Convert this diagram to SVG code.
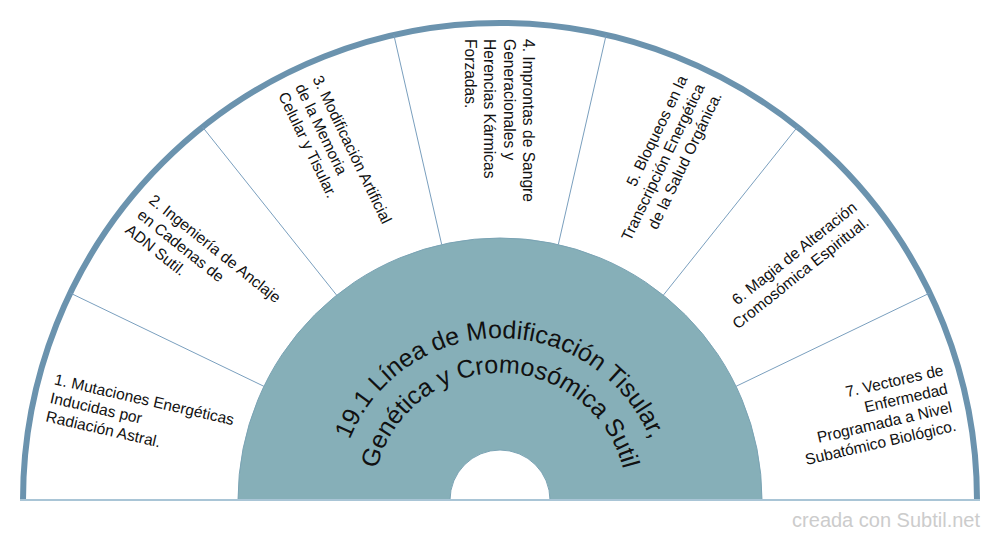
<svg xmlns="http://www.w3.org/2000/svg" width="1000" height="540" viewBox="0 0 1000 540">
<style>
.lbl{font-family:"Liberation Sans",Arial,sans-serif;font-size:15.6px;fill:#111}
.ttl{font-family:"Liberation Sans",Arial,sans-serif;font-size:25px;fill:#111}
.div{stroke:#7a9fbe;stroke-width:1;fill:none}
</style>
<defs>
<path id="arc1" d="M 338 500 A 162 162 0 0 1 662 500"/>
<path id="arc2" d="M 373 500 A 127 127 0 0 1 627 500"/>
</defs>
<rect width="1000" height="540" fill="#ffffff"/>
<g id="ring">
<path d="M 23 500 A 477 477 0 0 1 977 500" fill="#ffffff" stroke="#6b93ae" stroke-width="6"/>
</g>
<g id="connectors">
<line class="div" x1="263.95" y1="386.32" x2="70.24" y2="293.04"/>
<line class="div" x1="336.65" y1="295.16" x2="202.60" y2="127.07"/>
<line class="div" x1="441.70" y1="244.57" x2="393.86" y2="34.96"/>
<line class="div" x1="558.30" y1="244.57" x2="606.14" y2="34.96"/>
<line class="div" x1="663.35" y1="295.16" x2="797.40" y2="127.07"/>
<line class="div" x1="736.05" y1="386.32" x2="929.76" y2="293.04"/>
</g>
<g id="center">
<path d="M 238 500 A 262 262 0 0 1 762 500 Z" fill="#86afb8" stroke="#7aa3b4" stroke-width="1"/>
<path d="M 450 500 A 50 50 0 0 1 550 500 Z" fill="#ffffff" stroke="#7aa3b4" stroke-width="1"/>
<text class="ttl"><textPath href="#arc1" startOffset="50%" text-anchor="middle">19.1 Línea de Modificación Tisular,</textPath></text>
<text class="ttl"><textPath href="#arc2" startOffset="50%" text-anchor="middle">Genética y Cromosómica Sutil</textPath></text>
</g>
<line x1="20" y1="500" x2="980" y2="500" stroke="#a9c5d6" stroke-width="2"/>
<g id="node1">
<text class="lbl" transform="translate(500,500) rotate(12.857)"><tspan x="-461" y="-13.5">1. Mutaciones Energéticas</tspan><tspan x="-461" dy="19">Inducidas por</tspan><tspan x="-461" dy="19">Radiación Astral.</tspan></text>
</g>
<g id="node2">
<text class="lbl" transform="translate(500,500) rotate(38.571)"><tspan x="-461" y="-13.5">2. Ingeniería de Anclaje</tspan><tspan x="-461" dy="19">en Cadenas de</tspan><tspan x="-461" dy="19">ADN Sutil.</tspan></text>
</g>
<g id="node3">
<text class="lbl" transform="translate(500,500) rotate(64.286)"><tspan x="-461" y="-13.5">3. Modificación Artificial</tspan><tspan x="-461" dy="19">de la Memoria</tspan><tspan x="-461" dy="19">Celular y Tisular.</tspan></text>
</g>
<g id="node4">
<text class="lbl" transform="translate(500,500) rotate(90)"><tspan x="-461" y="-23">4. Improntas de Sangre</tspan><tspan x="-461" dy="19.5">Generacionales y</tspan><tspan x="-461" dy="19.5">Herencias Kármicas</tspan><tspan x="-461" dy="19.5">Forzadas.</tspan></text>
</g>
<g id="node5">
<text class="lbl" text-anchor="end" transform="translate(500,500) rotate(-64.286)"><tspan x="461" y="-13.5">5. Bloqueos en la</tspan><tspan x="461" dy="19">Transcripción Energética</tspan><tspan x="461" dy="19">de la Salud Orgánica.</tspan></text>
</g>
<g id="node6">
<text class="lbl" text-anchor="end" transform="translate(500,500) rotate(-38.571)"><tspan x="461" y="-4">6. Magia de Alteración</tspan><tspan x="461" dy="19">Cromosómica Espiritual.</tspan></text>
</g>
<g id="node7">
<text class="lbl" text-anchor="end" transform="translate(500,500) rotate(-12.857)"><tspan x="461" y="-23">7. Vectores de</tspan><tspan x="461" dy="19">Enfermedad</tspan><tspan x="461" dy="19">Programada a Nivel</tspan><tspan x="461" dy="19">Subatómico Biológico.</tspan></text>
</g>
<text x="980" y="527" text-anchor="end" font-family="'Liberation Sans',Arial,sans-serif" font-size="20" fill="#cccccc">creada con Subtil.net</text>
</svg>
